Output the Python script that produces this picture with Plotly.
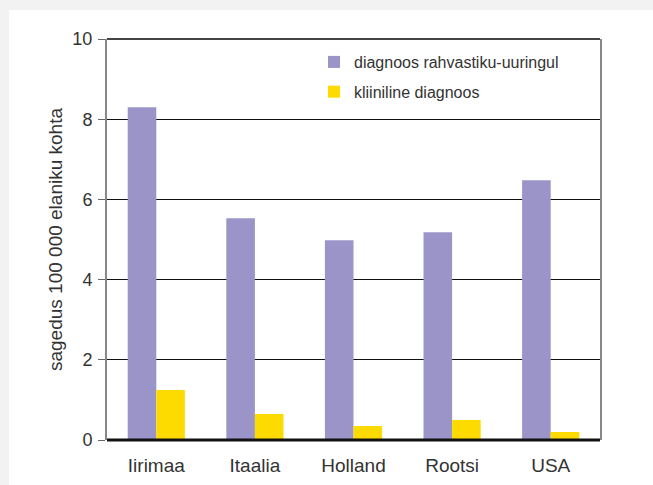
import plotly.graph_objects as go

countries = ["Iirimaa", "Itaalia", "Holland", "Rootsi", "USA"]
survey = [8.3, 5.53, 4.98, 5.18, 6.48]
clinical = [1.25, 0.65, 0.35, 0.5, 0.2]
series_names = ["diagnoos rahvastiku-uuringul", "kliiniline diagnoos"]
y_ticks = [0, 2, 4, 6, 8, 10]

W, H = 653, 485
L, R, T, B = 107, 600, 39, 440

def px(x):
    return (x - L) / (R - L)

def py(y):
    return (B - y) / (B - T)

fig = go.Figure()
fig.add_trace(go.Bar(x=countries, y=survey, name=series_names[0],
                     marker=dict(color="#9b94c8", line=dict(width=0)),
                     legendgroup="a"))
fig.add_trace(go.Bar(x=countries, y=clinical, name=series_names[1],
                     marker=dict(color="#fedb00", line=dict(width=0)),
                     legendgroup="b"))

font_family = "Liberation Sans, Arial, sans-serif"

shapes = [
    dict(type="rect", xref="paper", yref="paper", x0=px(0), x1=px(W), y0=py(0), y1=py(10),
         fillcolor="#f2f2f2", line=dict(width=0), layer="below"),
    dict(type="rect", xref="paper", yref="paper", x0=px(0), x1=px(9), y0=py(H), y1=py(0),
         fillcolor="#f2f2f2", line=dict(width=0), layer="below"),
    dict(type="line", xref="paper", yref="paper", x0=0, x1=1, y0=1, y1=1,
         line=dict(color="#444444", width=2), layer="above"),
    dict(type="line", xref="paper", yref="paper", x0=0, x1=1, y0=0, y1=0,
         line=dict(color="#111111", width=3), layer="above"),
]

fig.update_layout(
    width=W, height=H,
    margin=dict(l=L, r=W - R, t=T, b=H - B, autoexpand=False),
    paper_bgcolor="white", plot_bgcolor="white",
    barmode="group", bargap=0.42, bargroupgap=0,
    font=dict(family=font_family, color="#333333", size=18),
    showlegend=True,
    legend=dict(x=px(314), y=py(45), xanchor="left", yanchor="top",
                bgcolor="rgba(0,0,0,0)", font=dict(size=16, color="#333333"),
                traceorder="grouped", tracegroupgap=6, itemwidth=30),
    shapes=shapes,
    xaxis=dict(showgrid=False, showline=False, ticks="", ticklabelstandoff=12,
               tickfont=dict(size=19, color="#333333")),
    yaxis=dict(range=[0, 10], tickvals=y_ticks, showgrid=True, gridcolor="#111111",
               gridwidth=1, showline=True, linecolor="#888888", linewidth=2, mirror=True,
               ticks="outside", ticklen=7, tickcolor="#666666", tickwidth=1,
               ticklabelstandoff=2,
               zeroline=False, tickfont=dict(size=18, color="#333333"),
               title=dict(text="sagedus 100 000 elaniku kohta", standoff=5,
                          font=dict(size=19, color="#333333"))),
)

fig.write_html("out.html", config={"displayModeBar": False},
               post_script="document.body.style.margin='0';document.body.style.overflow='hidden';")
